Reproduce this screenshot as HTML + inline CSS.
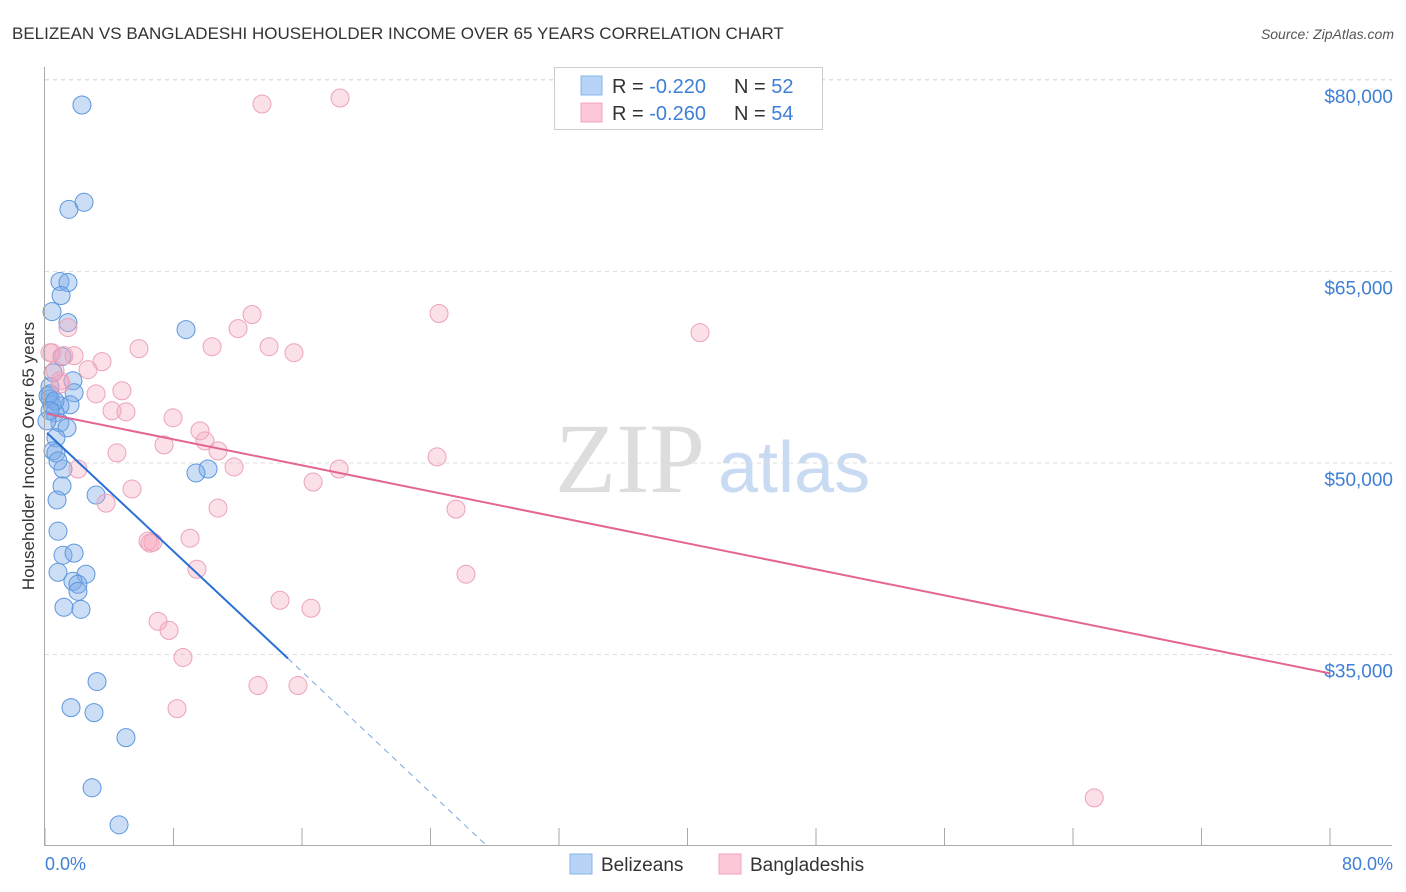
<!DOCTYPE html>
<html><head><meta charset="utf-8"><style>
body{margin:0;background:#fff;font-family:"Liberation Sans",sans-serif;}
#c{position:relative;width:1406px;height:892px;overflow:hidden;}
</style></head><body>
<div id="c">
<svg id="s" width="1406" height="892" xmlns="http://www.w3.org/2000/svg">
<text x="12" y="39" font-size="17" fill="#333">BELIZEAN VS BANGLADESHI HOUSEHOLDER INCOME OVER 65 YEARS CORRELATION CHART</text>
<text x="1394" y="39" font-size="14" fill="#555" font-style="italic" text-anchor="end">Source: ZipAtlas.com</text>
<text x="555" y="492" font-size="100" fill="#ddd" font-family="Liberation Serif,serif">ZIP</text>
<text x="718" y="492" font-size="72" fill="#c9dbf3">atlas</text>
<text transform="translate(34,456) rotate(-90)" font-size="17" fill="#333" text-anchor="middle">Householder Income Over 65 years</text>
<g id="grid"></g><g id="pts"></g><g id="lines"></g>
<line x1="44.5" y1="67" x2="44.5" y2="845" stroke="#aaa"/>
<line x1="44" y1="845.5" x2="1392" y2="845.5" stroke="#aaa"/>
<text x="45" y="870" font-size="18" fill="#3f7fd6">0.0%</text>
<text x="1393" y="870" font-size="18" fill="#3f7fd6" text-anchor="end">80.0%</text>
<g>
<rect x="554.5" y="67.5" width="268" height="62" fill="#fff" stroke="#ccc"/>
<rect x="581" y="76" width="21" height="19" fill="#b7d3f5" stroke="#8ab4ea"/>
<rect x="581" y="103" width="21" height="19" fill="#fcc8d8" stroke="#f0a4bc"/>
<text x="612" y="93" font-size="20" fill="#333">R = <tspan fill="#3f7fd6">-0.220</tspan><tspan x="734">N = </tspan><tspan fill="#3f7fd6">52</tspan></text>
<text x="612" y="120" font-size="20" fill="#333">R = <tspan fill="#3f7fd6">-0.260</tspan><tspan x="734">N = </tspan><tspan fill="#3f7fd6">54</tspan></text>
</g>
<g>
<rect x="570" y="854" width="22" height="20" fill="#b7d3f5" stroke="#8ab4ea"/>
<text x="601" y="871" font-size="19" fill="#333">Belizeans</text>
<rect x="719" y="854" width="22" height="20" fill="#fcc8d8" stroke="#f0a4bc"/>
<text x="750" y="871" font-size="19" fill="#333">Bangladeshis</text>
</g>
</svg>
</div>
<script>
const yTicks=[80,65,50,35];
const yTickLabels=["$80,000","$65,000","$50,000","$35,000"];
const xTicks=[0,8,16,24,32,40,48,56,64,72,80];
const blueX=[2.30,1.49,2.43,0.93,1.43,1.00,0.44,1.43,8.78,1.06,0.50,1.74,0.31,1.81,0.31,0.44,1.56,0.93,0.62,0.93,1.37,0.68,0.50,0.68,1.12,10.15,9.40,1.06,3.18,0.75,0.81,1.12,1.81,0.81,2.55,1.74,2.05,2.05,1.18,2.24,3.24,1.62,3.05,5.04,2.93,4.61,0.31,0.19,0.62,0.31,0.81,0.12];
const blueY=[78.04,69.87,70.42,64.22,64.14,63.12,61.86,61.00,60.45,58.33,57.07,56.44,55.97,55.50,55.03,54.56,54.56,54.48,53.93,53.15,52.75,51.97,50.95,50.79,49.53,49.53,49.22,48.20,47.49,47.10,44.66,42.78,42.94,41.44,41.29,40.74,40.50,39.95,38.70,38.54,32.88,30.84,30.45,28.49,24.56,21.66,55.42,55.27,54.87,54.09,50.16,53.30];
const pinkX=[13.51,18.37,24.53,40.78,12.89,12.02,10.40,13.95,15.50,5.85,1.43,1.18,1.81,0.44,3.55,2.68,0.62,0.93,4.79,3.18,4.17,5.04,7.97,9.65,9.96,7.41,10.77,4.48,11.77,18.31,24.41,2.05,16.69,5.42,3.80,10.77,25.59,6.41,6.72,9.03,9.46,26.21,14.63,16.56,7.04,7.72,8.59,13.26,15.75,8.22,65.32,0.31,1.00,6.54];
const pinkY=[78.12,78.59,61.71,60.21,61.63,60.53,59.11,59.11,58.64,58.96,60.61,58.41,58.41,58.64,57.94,57.31,57.23,56.44,55.66,55.42,54.09,54.01,53.54,52.52,51.73,51.42,50.95,50.79,49.69,49.53,50.48,49.53,48.51,47.96,46.86,46.47,46.39,43.88,43.80,44.11,41.68,41.29,39.25,38.62,37.60,36.89,34.77,32.57,32.57,30.76,23.77,58.64,56.21,43.72];
const blueTrendX=[0.12,15.13,27.58];
const blueTrendY=[52.36,34.69,19.93];
const pinkTrendX=[0.12,80];
const pinkTrendY=[53.86,33.52];
const NS="http://www.w3.org/2000/svg";
const xs=p=>45+p*16.0625;
const ys=v=>80+(80-v)*12.767;
function mk(tag,attrs,parent){const e=document.createElementNS(NS,tag);for(const k in attrs)e.setAttribute(k,attrs[k]);document.getElementById(parent).appendChild(e);return e;}
yTicks.forEach((t,i)=>{
 const l=mk('line',{x1:45,x2:1392,y1:ys(t),y2:ys(t),stroke:'#ddd','stroke-dasharray':'4,4'},'grid');
 
 
 const tx=mk('text',{x:1393,y:ys(t)+23,'font-size':19,fill:'#3f7fd6','text-anchor':'end'},'grid');
 tx.textContent=yTickLabels[i];
 
 
});
const tl=mk('line',{x1:45,x2:1392,y1:79.5,y2:79.5,stroke:'#ddd','stroke-dasharray':'4,4'},'grid');


xTicks.forEach(t=>{
 const l=mk('line',{x1:xs(t),x2:xs(t),y1:828,y2:845,stroke:'#aaa'},'grid');
 
 
});
blueX.forEach((x,i)=>{
 const c=mk('circle',{cx:xs(x),cy:ys(blueY[i]),r:9,fill:'rgba(125,172,232,0.4)',stroke:'#5c97de','stroke-width':1},'pts');
 
 
});
pinkX.forEach((x,i)=>{
 const c=mk('circle',{cx:xs(x),cy:ys(pinkY[i]),r:9,fill:'rgba(245,165,190,0.35)',stroke:'#eba2ba','stroke-width':1},'pts');
 
 
});
const b1=mk('line',{x1:xs(blueTrendX[0]),y1:ys(blueTrendY[0]),x2:xs(blueTrendX[1]),y2:ys(blueTrendY[1]),stroke:'#2a6fd6','stroke-width':2},'lines');


const b2=mk('line',{x1:xs(blueTrendX[1]),y1:ys(blueTrendY[1]),x2:xs(blueTrendX[2]),y2:ys(blueTrendY[2]),stroke:'#7aa6e0','stroke-width':1,'stroke-dasharray':'6,5'},'lines');


const p1=mk('line',{x1:xs(pinkTrendX[0]),y1:ys(pinkTrendY[0]),x2:xs(pinkTrendX[1]),y2:ys(pinkTrendY[1]),stroke:'#e36692','stroke-width':2},'lines');


</script>
</body></html>
